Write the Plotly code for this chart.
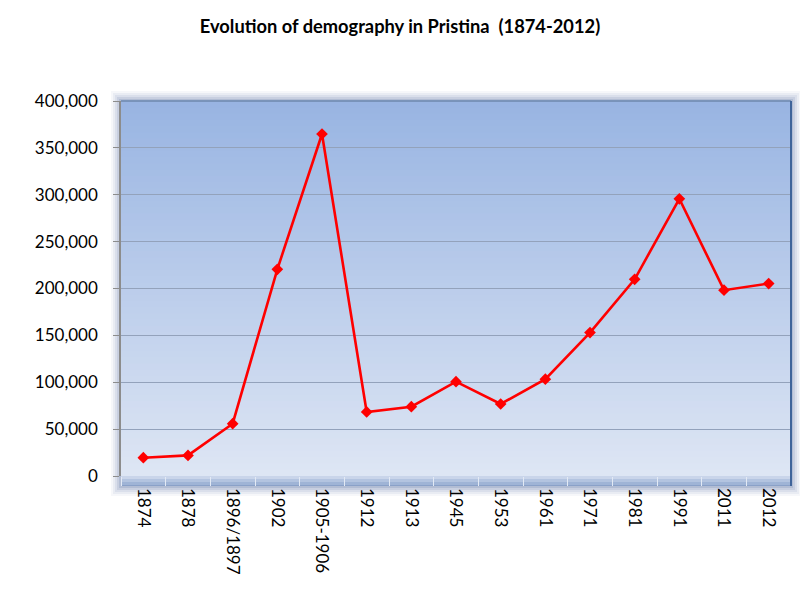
import plotly.graph_objects as go

years = ["1874", "1878", "1896/1897", "1902", "1905-1906", "1912", "1913", "1945",
         "1953", "1961", "1971", "1981", "1991", "2011", "2012"]
population = [19500, 22000, 55800, 220500, 364800, 68300, 73900, 100600,
              76800, 103300, 153000, 209800, 295700, 198200, 205300]
y_ticks = [0, 50000, 100000, 150000, 200000, 250000, 300000, 350000, 400000]
y_tick_labels = ["0", "50,000", "100,000", "150,000", "200,000", "250,000",
                 "300,000", "350,000", "400,000"]
title_text = "Evolution of demography in Pristina  (1874-2012)"

W, H = 800, 600
L, R, T, B = 121, 9, 101, 124
plot_h = H - T - B
plot_w = W - L - R

fig = go.Figure()
fig.add_trace(go.Scatter(
    x=years, y=population, mode="lines+markers",
    line=dict(color="#ff0000", width=2.6),
    marker=dict(symbol="diamond", size=9, color="#ff0000"),
    hoverinfo="x+y",
))

shapes = []
# soft shadow / glow around the plot area
for pad, op in [(10, 0.05), (8, 0.07), (6, 0.09), (4, 0.12), (2, 0.16)]:
    shapes.append(dict(type="rect", xref="paper", yref="paper", layer="below",
                       x0=-pad / plot_w, x1=1 + pad / plot_w,
                       y0=-(pad + 10) / plot_h, y1=1 + pad / plot_h,
                       line=dict(width=0), fillcolor=f"rgba(70,100,150,{op})"))
shapes.append(dict(type="rect", xref="paper", yref="paper", layer="below",
                   x0=0, x1=1, y0=0, y1=1, line=dict(width=0), fillcolor="white"))
# vertical gradient background
top_c = (152, 180, 226)
bot_c = (222, 230, 244)
n = 60
for i in range(n):
    t = (i + 0.5) / n
    c = tuple(round(bot_c[k] + (top_c[k] - bot_c[k]) * t) for k in range(3))
    shapes.append(dict(type="rect", xref="paper", yref="paper", layer="below",
                       x0=0, x1=1, y0=i / n, y1=(i + 1) / n + 0.002,
                       line=dict(width=0), fillcolor=f"rgb{c}"))
# 3D floor band under x axis
band = [((0, 3), "#c9d5ea"), ((3, 6), "#b3c4e0"), ((6, 9), "#9fb4d6"), ((9, 10), "#8aa1c8")]
for (a, b), col in band:
    shapes.append(dict(type="rect", xref="paper", yref="paper", layer="below",
                       x0=0, x1=1, y0=-b / plot_h, y1=-a / plot_h,
                       line=dict(width=0), fillcolor=col))
# borders: top and right
shapes.append(dict(type="line", xref="paper", yref="paper", layer="above",
                   x0=0, x1=1, y0=1, y1=1, line=dict(color="#6f88ad", width=1.5)))
shapes.append(dict(type="line", xref="paper", yref="paper", layer="above",
                   x0=1, x1=1, y0=-10 / plot_h, y1=1, line=dict(color="#3f649a", width=2)))

fig.update_layout(
    width=W, height=H,
    margin=dict(l=L, r=R, t=T, b=B, pad=0),
    paper_bgcolor="white",
    plot_bgcolor="rgba(0,0,0,0)",
    showlegend=False,
    shapes=shapes,
    title=dict(text=f"<b>{title_text}</b>", x=0.5, xanchor="center",
               y=1 - 27 / H, yanchor="middle",
               font=dict(family="Lato", size=18.3, color="#000000")),
    xaxis=dict(
        type="category", range=[-0.5, 14.5], automargin=False,
        tickangle=90, tickson="boundaries", ticks="outside", ticklen=9,
        tickcolor="#e3eaf5", tickwidth=1, ticklabelstandoff=11,
        showgrid=False, showline=False, zeroline=False,
        tickfont=dict(family="Lato", size=17, color="#000000"),
    ),
    yaxis=dict(
        range=[0, 400000], tickvals=y_ticks, ticktext=y_tick_labels, automargin=False,
        ticks="outside", ticklen=6, tickcolor="#8c8c8c",
        showline=True, linecolor="#8c8c8c", linewidth=1.5,
        showgrid=True, gridcolor="#93a2bb", gridwidth=1,
        zeroline=False, ticklabelstandoff=12,
        tickfont=dict(family="Lato", size=17, color="#000000"),
    ),
)

fig.write_html("out.html", config={"displayModeBar": False},
               post_script="document.body.style.margin='0';")
